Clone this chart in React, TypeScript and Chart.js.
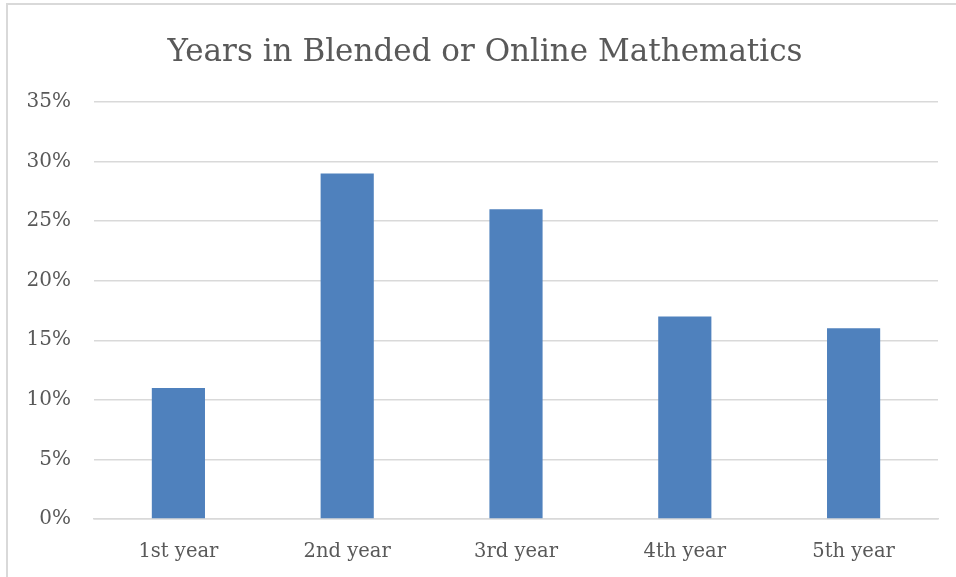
import React, { useEffect, useRef } from "react";
import { Chart, registerables } from "chart.js";

Chart.register(...registerables);

const categories = ["1st year", "2nd year", "3rd year", "4th year", "5th year"];
const shares = [11, 29, 26, 17, 16];
const yTicks = [0, 5, 10, 15, 20, 25, 30, 35];
const titleText = "Years in Blended or Online Mathematics";

const FONT = "'DejaVu Serif', 'Liberation Serif', serif";
const TEXT = "#595959";
const GRID = "#d9d9d9";

// Title drawn centred on the outer chart frame rather than the canvas.
const frameTitle = {
  id: "frameTitle",
  afterDraw(chart: any) {
    const { ctx } = chart;
    ctx.save();
    ctx.font = `normal 31px ${FONT}`;
    ctx.fillStyle = TEXT;
    ctx.textAlign = "center";
    ctx.textBaseline = "alphabetic";
    ctx.fillText(titleText, 485, 61);
    ctx.restore();
  },
};

export default function App() {
  const ref = useRef<HTMLCanvasElement | null>(null);

  useEffect(() => {
    document.body.style.margin = "0";
    const canvas = ref.current;
    if (!canvas) return;
    const chart = new Chart(canvas, {
      type: "bar",
      data: {
        labels: categories,
        datasets: [
          {
            label: "Share",
            data: shares,
            backgroundColor: "#4f81bd",
            borderWidth: 0,
            categoryPercentage: 1,
            barPercentage: 0.315,
          },
        ],
      },
      plugins: [frameTitle],
      options: {
        responsive: false,
        animation: false,
        devicePixelRatio: 1,
        layout: { padding: { left: 0, right: 18, top: 102, bottom: 0 } },
        plugins: {
          legend: { display: false },
          tooltip: { enabled: false },
          title: { display: false },
        },
        scales: {
          x: {
            grid: { display: false, drawTicks: false },
            border: { display: true, color: GRID, width: 1.5 },
            ticks: {
              color: TEXT,
              font: { family: FONT, size: 19.5 },
              padding: 21,
            },
            afterFit: (scale: any) => {
              scale.height = 58;
            },
          },
          y: {
            min: 0,
            max: 35,
            afterBuildTicks: (scale: any) => {
              scale.ticks = yTicks.map((v) => ({ value: v }));
            },
            grid: { color: GRID, lineWidth: 1.5, drawTicks: false },
            border: { display: false },
            ticks: {
              color: TEXT,
              font: { family: FONT, size: 20 },
              padding: 23,
              callback: (v: any) => `${v}%`,
            },
            afterFit: (scale: any) => {
              scale.width = 94;
            },
          },
        },
      },
    });
    return () => chart.destroy();
  }, []);

  return (
    <div style={{ position: "absolute", left: 0, top: 0, width: 956, height: 577, overflow: "hidden", background: "#fff" }}>
      <div
        style={{
          position: "absolute",
          left: 6,
          top: 3,
          width: 1000,
          height: 700,
          border: "2px solid #d9d9d9",
          boxSizing: "border-box",
        }}
      />
      <canvas ref={ref} width={956} height={577} style={{ position: "absolute", left: 0, top: 0 }} />
    </div>
  );
}
